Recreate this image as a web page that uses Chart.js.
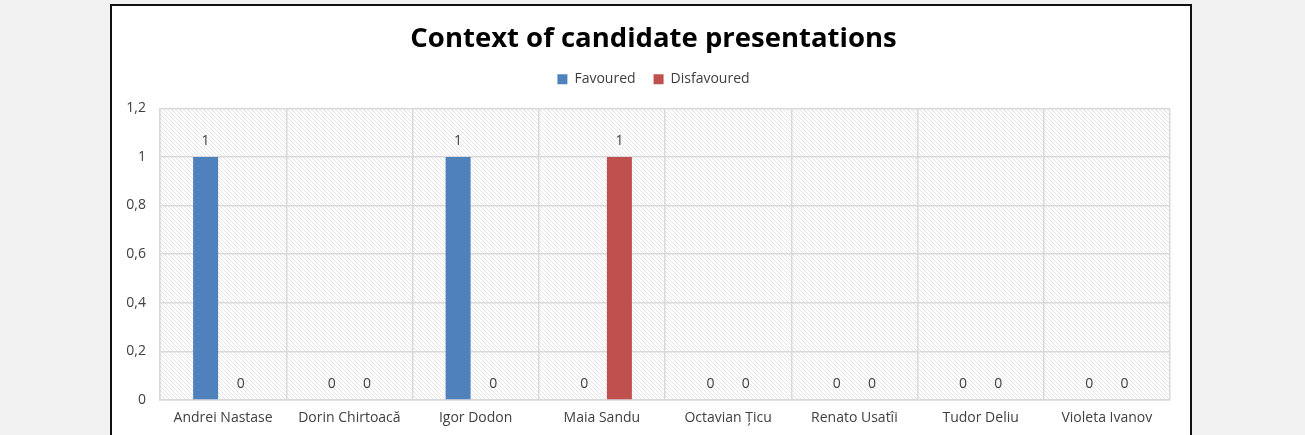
<!DOCTYPE html>
<html>
<head>
<meta charset="utf-8">
<script src="https://cdn.jsdelivr.net/npm/chart.js@4.4.1/dist/chart.umd.min.js"></script>
<style>
  html, body { margin: 0; padding: 0; background: #f2f2f2; overflow: hidden; }
  #box {
    position: absolute; left: 110px; top: 4px;
    width: 1078px; height: 440px;
    border: 2px solid #111; background: #fff;
  }
</style>
</head>
<body>
<div id="box"><canvas id="chart" width="1078" height="440"></canvas></div>
<script>
// candidates and number of presentations per context
const candidates = ['Andrei Nastase', 'Dorin Chirtoacă', 'Igor Dodon', 'Maia Sandu',
    'Octavian Țicu', 'Renato Usatîi', 'Tudor Deliu', 'Violeta Ivanov'];
const favoured = [1, 0, 1, 0, 0, 0, 0, 0];
const disfavoured = [0, 0, 0, 1, 0, 0, 0, 0];
const yMax = 1.2;
const yStep = 0.2;

const labelColor = '#404040';
const gridColor = '#d9d9d9';

// diagonal hatch used behind the bars
function makeHatch() {
    const c = document.createElement('canvas');
    c.width = 4; c.height = 4;
    const g = c.getContext('2d');
    g.fillStyle = '#fff';
    g.fillRect(0, 0, 4, 4);
    g.fillStyle = '#e3e3e3';
    for (let i = 0; i < 4; i++) g.fillRect(i, i, 1, 1);
    return g.createPattern(c, 'repeat');
}

const hatchBackground = {
    id: 'hatchBackground',
    beforeDraw(chart) {
        const a = chart.chartArea;
        const ctx = chart.ctx;
        ctx.save();
        ctx.fillStyle = makeHatch();
        ctx.fillRect(a.left, a.top, a.right - a.left, a.bottom - a.top);
        ctx.restore();
    }
};

// value labels above each bar (zeros sit on the axis)
const valueLabels = {
    id: 'valueLabels',
    afterDatasetsDraw(chart) {
        const ctx = chart.ctx;
        ctx.save();
        ctx.font = '14px "Open Sans"';
        ctx.fillStyle = labelColor;
        ctx.textAlign = 'center';
        ctx.textBaseline = 'middle';
        chart.data.datasets.forEach((ds, i) => {
            chart.getDatasetMeta(i).data.forEach((bar, j) => {
                ctx.fillText(String(ds.data[j]), bar.x, bar.y - 16);
            });
        });
        ctx.restore();
    }
};

const fmt = v => String(Math.round(v * 10) / 10).replace('.', ',');

new Chart(document.getElementById('chart'), {
    type: 'bar',
    data: {
        labels: candidates,
        datasets: [
            {
                label: 'Favoured',
                data: favoured,
                backgroundColor: '#4f81bd'
            },
            {
                label: 'Disfavoured',
                data: disfavoured,
                backgroundColor: '#c0504d'
            }
        ]
    },
    options: {
        responsive: false,
        animation: false,
        categoryPercentage: 0.555,
        barPercentage: 0.714,
        layout: { padding: { left: 11, right: 6, top: 0, bottom: 0 } },
        plugins: {
            title: {
                display: true,
                text: 'Context of candidate presentations',
                color: '#000',
                font: { family: 'Open Sans', size: 27.5, weight: 'bold', lineHeight: 1.1 },
                padding: { top: 17.7, bottom: 0.3 }
            },
            subtitle: {
                // spacer between legend and plot
                display: true,
                text: '',
                weight: 500,
                font: { size: 11, lineHeight: 1 },
                padding: { top: 0.5, bottom: 0.5 }
            },
            legend: {
                labels: {
                    boxWidth: 10,
                    boxHeight: 10,
                    padding: 18,
                    color: labelColor,
                    font: { family: 'Open Sans', size: 14 }
                }
            },
            tooltip: { enabled: false }
        },
        scales: {
            x: {
                afterFit(scale) { scale.height = 46; },
                grid: { color: gridColor, lineWidth: 1.5, drawTicks: false },
                border: { color: gridColor, width: 1.5 },
                ticks: { color: labelColor, padding: 10, font: { family: 'Open Sans', size: 14 } }
            },
            y: {
                min: 0,
                max: yMax,
                afterFit(scale) { scale.width = 37; },
                grid: { color: gridColor, lineWidth: 1.5, drawTicks: false },
                border: { color: gridColor, width: 1.5 },
                ticks: {
                    stepSize: yStep,
                    color: labelColor,
                    padding: 14,
                    font: { family: 'Open Sans', size: 14 },
                    callback: fmt
                }
            },
            // empty margin on the right of the plot
            yRight: {
                position: 'right',
                min: 0,
                max: yMax,
                afterFit(scale) { scale.width = 14; },
                grid: { drawOnChartArea: false, drawTicks: false },
                border: { display: false },
                ticks: { display: false }
            }
        }
    },
    plugins: [hatchBackground, valueLabels]
});
</script>
</body>
</html>
